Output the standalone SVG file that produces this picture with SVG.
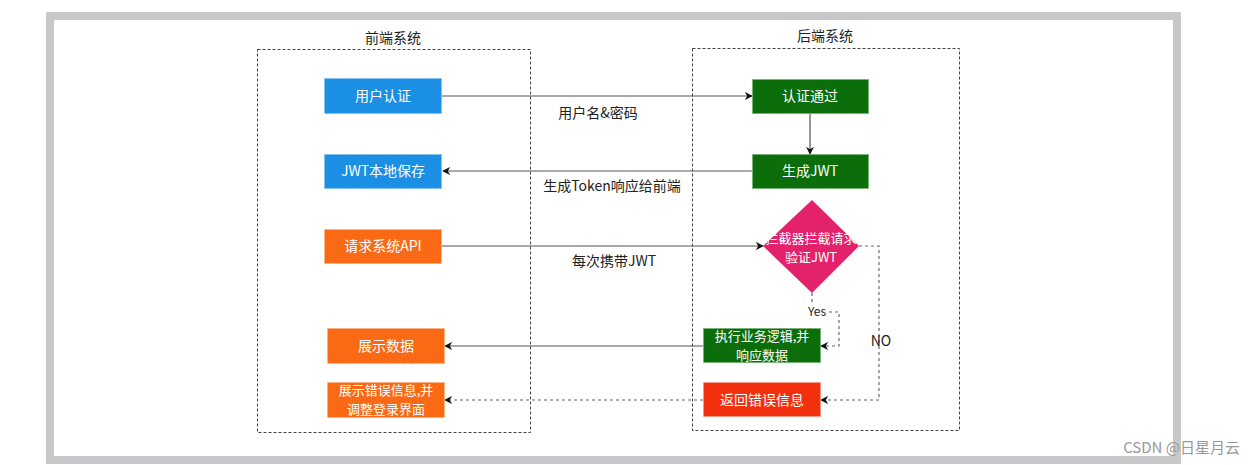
<svg xmlns="http://www.w3.org/2000/svg" width="1254" height="465" viewBox="0 0 1254 465">
<style>
text{font-family:"Noto Sans CJK SC","Liberation Sans",sans-serif;}
.t{font-size:14px;fill:#222;text-anchor:middle;}
.w{font-size:14px;fill:#fff;text-anchor:middle;}
.w2{font-size:13px;fill:#fff;text-anchor:middle;}
.lane{fill:none;stroke:#444;stroke-width:1;stroke-dasharray:3,2;}
.blue{fill:#1b8fe3;stroke:#7cc0f0;stroke-dasharray:3,2;}
.orange{fill:#fa6a14;stroke:#fdb07f;stroke-dasharray:3,2;}
.green{fill:#0b6e0b;stroke:#6fb06f;stroke-dasharray:3,2;}
.red{fill:#f2300e;stroke:#f79a8a;stroke-dasharray:3,2;}
.pink{fill:#e3226b;}
.c{fill:none;stroke:#555;stroke-width:1.2;}
.d{fill:none;stroke:#666;stroke-width:1.2;stroke-dasharray:3,3;}
</style>
<defs>
<marker id="ah" viewBox="0 0 10 10" refX="9" refY="5" markerWidth="8" markerHeight="8" orient="auto" markerUnits="userSpaceOnUse">
<path d="M0,0 L10,5 L0,10 L3,5 z" fill="#111"/>
</marker>
</defs>
<rect x="0" y="0" width="1254" height="465" fill="#fff"/>
<rect x="50" y="16" width="1127" height="444" fill="#fff" stroke="#c8c8ca" stroke-width="8"/>
<g id="frontend-lane">
<rect class="lane" x="257.5" y="49.5" width="273" height="383"/>
<text class="t" x="393" y="43">前端系统</text>
</g>
<g id="backend-lane">
<rect class="lane" x="692.5" y="48.5" width="267" height="382"/>
<text class="t" x="825" y="41">后端系统</text>
</g>
<g id="connectors">
<line class="c" x1="442" y1="96" x2="752" y2="96" marker-end="url(#ah)"/>
<line class="c" x1="810" y1="114" x2="810" y2="154" marker-end="url(#ah)"/>
<line class="c" x1="752" y1="171" x2="443" y2="171" marker-end="url(#ah)"/>
<line class="c" x1="442" y1="246" x2="763" y2="246" marker-end="url(#ah)"/>
<polyline class="d" points="812,293 812,304"/>
<polyline class="d" points="829,312 839,312 839,346 821,346" marker-end="url(#ah)"/>
<polyline class="d" points="859,246 879,246 879,400 821,400" marker-end="url(#ah)"/>
<line class="c" x1="703" y1="346" x2="445" y2="346" marker-end="url(#ah)"/>
<line class="d" x1="703" y1="400" x2="445" y2="400" marker-end="url(#ah)"/>
<text class="t" x="598" y="118">用户名&amp;密码</text>
<text class="t" x="612" y="191">生成Token响应给前端</text>
<text class="t" x="614" y="266">每次携带JWT</text>
<text class="t" x="817" y="316" style="font-size:12px">Yes</text>
<text class="t" x="881" y="346">NO</text>
</g>
<g id="user-auth">
<rect class="blue" x="324.5" y="78.5" width="117" height="35"/>
<text class="w" x="383" y="101">用户认证</text>
</g>
<g id="jwt-save">
<rect class="blue" x="324.5" y="154.5" width="117" height="34"/>
<text class="w" x="383" y="176">JWT本地保存</text>
</g>
<g id="request-api">
<rect class="orange" x="324.5" y="229.5" width="117" height="34"/>
<text class="w" x="383" y="251">请求系统API</text>
</g>
<g id="show-data">
<rect class="orange" x="327.5" y="328.5" width="117" height="35"/>
<text class="w" x="386" y="351">展示数据</text>
</g>
<g id="show-error">
<rect class="orange" x="327.5" y="382.5" width="117" height="35"/>
<text class="w2" x="386" y="395">展示错误信息,并</text>
<text class="w2" x="386" y="414">调整登录界面</text>
</g>
<g id="auth-pass">
<rect class="green" x="752.5" y="79.5" width="116" height="34"/>
<text class="w" x="810" y="101">认证通过</text>
</g>
<g id="gen-jwt">
<rect class="green" x="752.5" y="154.5" width="116" height="34"/>
<text class="w" x="810" y="176">生成JWT</text>
</g>
<g id="interceptor">
<polygon class="pink" points="812,200 859,246 812,293 763,246"/>
<text class="w2" x="811" y="243">拦截器拦截请求</text>
<text class="w2" x="811" y="262">验证JWT</text>
</g>
<g id="exec-logic">
<rect class="green" x="703.5" y="328.5" width="117" height="34"/>
<text class="w2" x="762" y="341">执行业务逻辑,并</text>
<text class="w2" x="762" y="360">响应数据</text>
</g>
<g id="return-error">
<rect class="red" x="703.5" y="382.5" width="117" height="34"/>
<text class="w" x="762" y="405">返回错误信息</text>
</g>
<text x="1240" y="453" style="font-size:15px;fill:#999;text-anchor:end">CSDN @日星月云</text>
</svg>
